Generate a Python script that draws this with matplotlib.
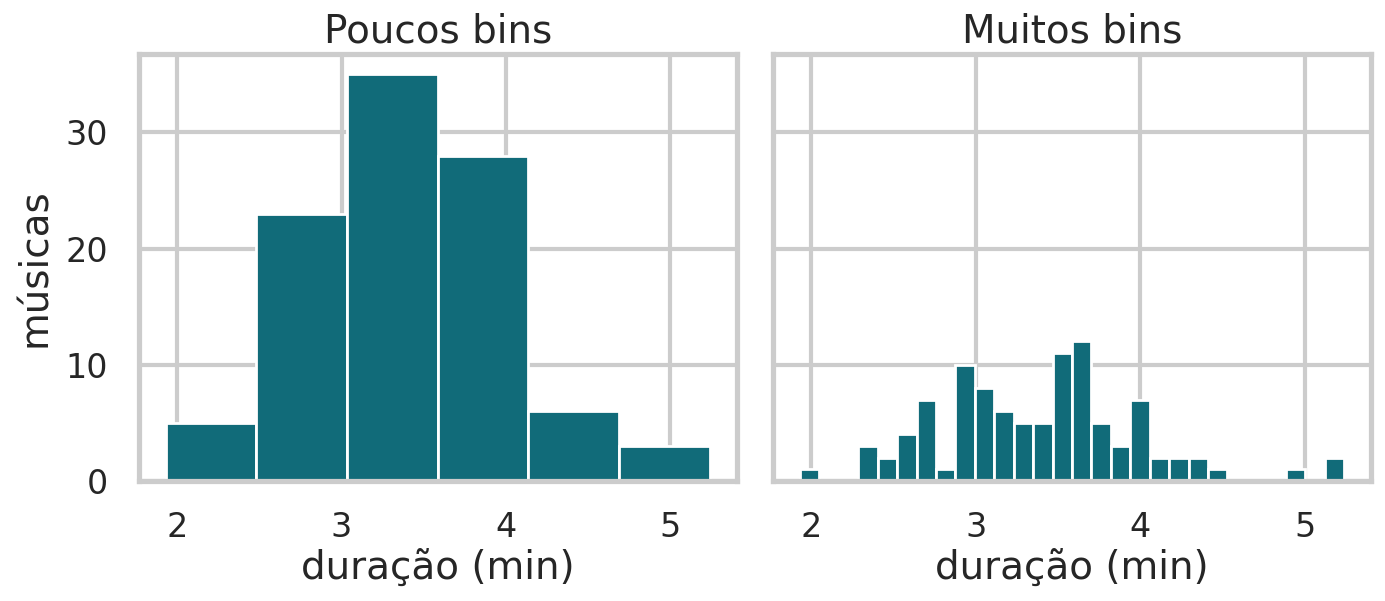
import numpy as np
import matplotlib
matplotlib.use("Agg")
import matplotlib.pyplot as plt
import seaborn as sns

sns.set_theme(style="whitegrid", context="talk")

x_min, x_max = 1.93, 5.24
few_counts = [5, 23, 35, 28, 6, 3]
many_counts = [1, 0, 0, 3, 2, 4, 7, 1, 10, 8, 6, 5, 5, 11, 12, 5, 3, 7, 2, 2, 2, 1, 0, 0, 0, 1, 0, 2]
titles = ["Poucos bins", "Muitos bins"]
color = "#116b79"

fig, axes = plt.subplots(1, 2, figsize=(6.925, 3.005), dpi=200, sharey=True)
for ax, counts, title in zip(axes, [few_counts, many_counts], titles):
    edges = np.linspace(x_min, x_max, len(counts) + 1)
    ax.hist(edges[:-1], bins=edges, weights=counts, color=color,
            edgecolor="white", linewidth=1.0)
    ax.set_title(title, fontsize=14, pad=4)
    ax.set_xlabel("duração (min)", fontsize=14, labelpad=2)
    ax.set_xticks([2, 3, 4, 5])
    ax.tick_params(labelsize=12, pad=2)
    ax.set_axisbelow(True)
axes[0].set_ylabel("músicas", fontsize=14)
axes[0].set_yticks([0, 10, 20, 30])
fig.subplots_adjust(left=0.1, right=0.99, top=0.91, bottom=0.2, wspace=0.06)
fig.savefig("out.png", dpi=200)
